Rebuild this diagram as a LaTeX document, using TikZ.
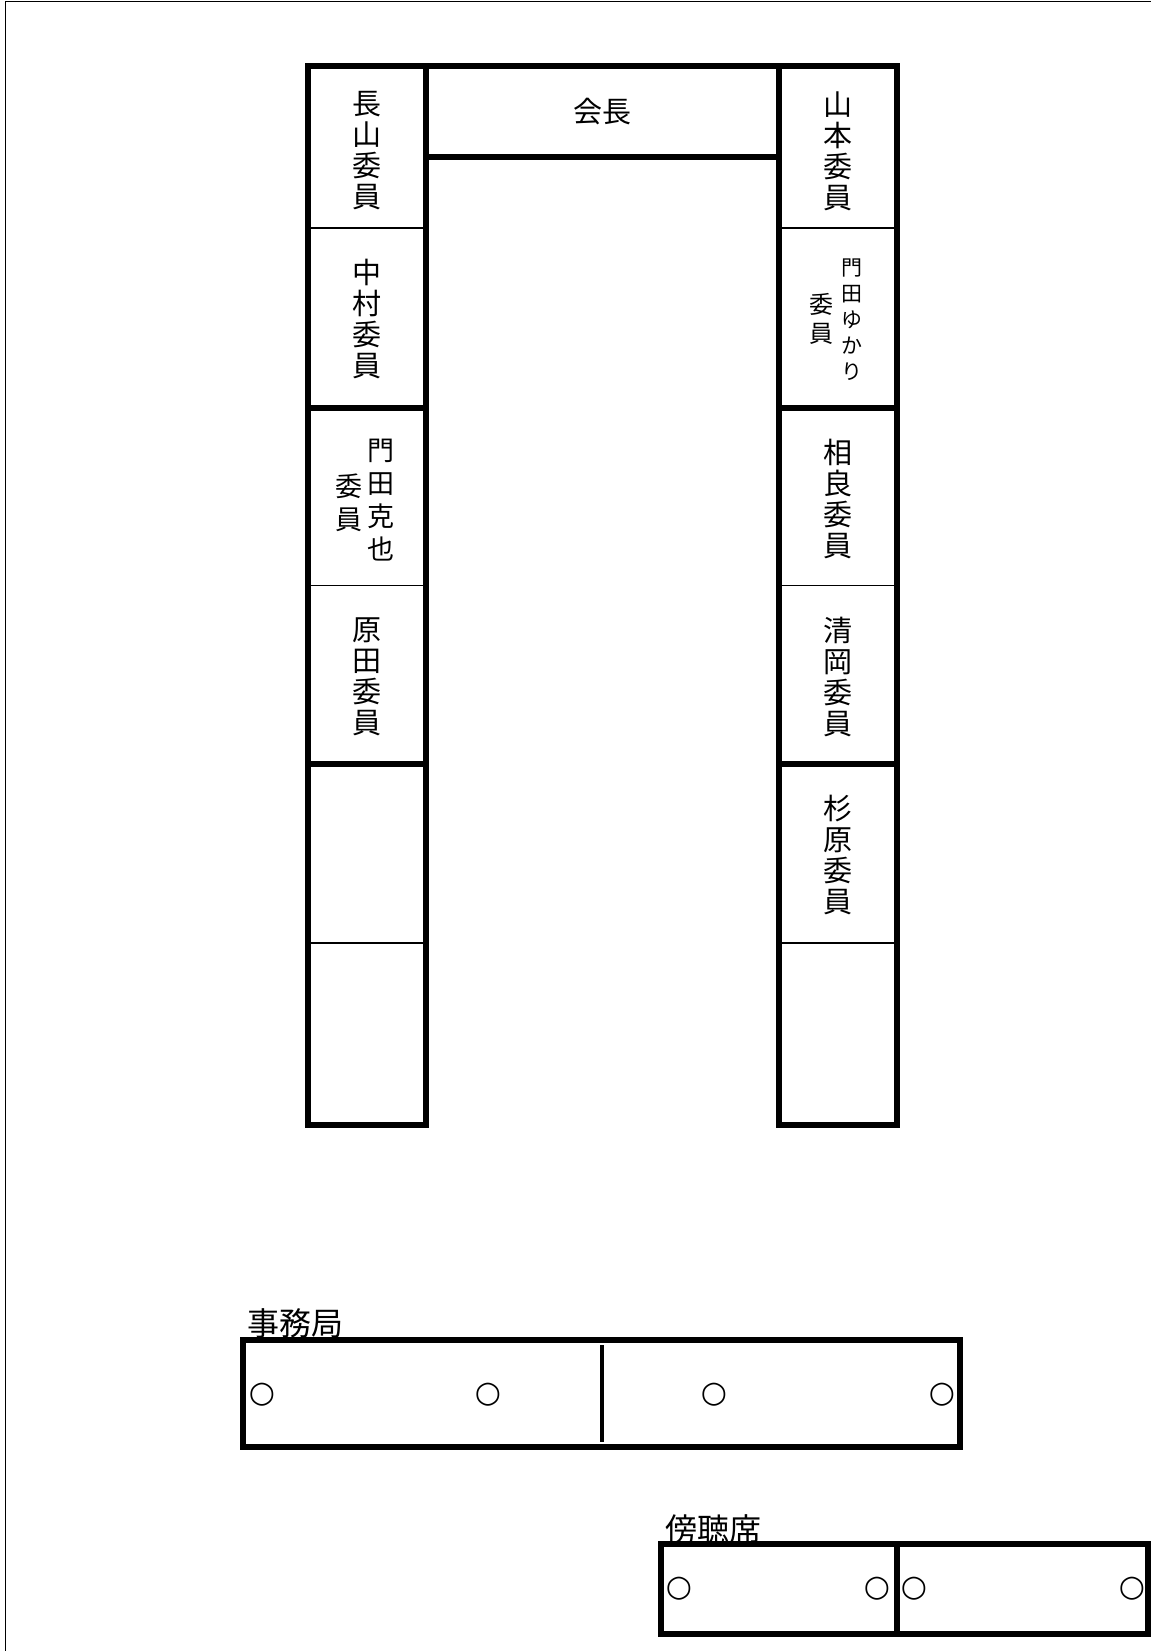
\documentclass[tikz,border=0pt]{standalone}
\usepackage{fontspec}
\newfontfamily\jp{Noto Sans CJK JP}
\newfontfamily\markfont{DejaVu Sans}
\begin{document}
\begin{tikzpicture}[x=0.5pt,y=-0.5pt,
  thickline/.style={line width=3pt},
  thinline/.style={line width=0.75pt},
  frameline/.style={line width=0.6pt},
  seat/.style={font=\jp\fontsize{14.5}{15.5}\selectfont, align=center, inner sep=0pt},
  seatmid/.style={font=\jp\fontsize{13.5}{16.5}\selectfont, align=center, inner sep=0pt},
  seatsmall/.style={font=\jp\fontsize{10.5}{13}\selectfont, align=center, inner sep=0pt},
  seatsmallb/.style={font=\jp\fontsize{12}{14.5}\selectfont, align=center, inner sep=0pt},
  label/.style={font=\jp\fontsize{16}{17}\selectfont, inner sep=0pt, anchor=west},
  seatmark/.style={font=\markfont\bfseries\fontsize{15}{16}\selectfont, inner sep=0pt}]
\useasboundingbox (0,0) rectangle (1151,1651);
% page frame
\draw[frameline] (5.5,1651) -- (5.5,1.5) -- (1151,1.5);
% left column
\draw[thickline] (308,66) rectangle (425.5,1125);
\draw[thickline] (308,408) -- (425.5,408);
\draw[thickline] (308,764) -- (425.5,764);
\draw[thinline] (308,228) -- (425.5,228);
\draw[thinline] (308,585.5) -- (425.5,585.5);
\draw[thinline] (308,943) -- (425.5,943);
% right column
\draw[thickline] (779,66) rectangle (897,1125);
\draw[thickline] (779,408) -- (897,408);
\draw[thickline] (779,764) -- (897,764);
\draw[thinline] (779,228) -- (897,228);
\draw[thinline] (779,585.5) -- (897,585.5);
\draw[thinline] (779,943) -- (897,943);
% chair box
\draw[thickline] (425.5,66) -- (779,66);
\draw[thickline] (425.5,157) -- (779,157);
\node[seat] (chair) at (602,112) {会長};
% left names
\node[seat] (l1) at (367,151) {長\\山\\委\\員};
\node[seat] (l2) at (367,319) {中\\村\\委\\員};
\node[seatmid] (l3a) at (381,500) {門\\田\\克\\也};
\node[seatmid] (l3b) at (349,503) {委\\員};
\node[seat] (l4) at (367,677) {原\\田\\委\\員};
% right names
\node[seat] (r1) at (838,151) {山\\本\\委\\員};
\node[seatsmall] (r2a) at (852,320) {門\\田\\ゆ\\か\\り};
\node[seatsmallb] (r2b) at (821,319) {委\\員};
\node[seat] (r3) at (838,499) {相\\良\\委\\員};
\node[seat] (r4) at (838,677) {清\\岡\\委\\員};
\node[seat] (r5) at (838,855) {杉\\原\\委\\員};
% secretariat
\node[label] (secl) at (247,1323) {事務局};
\draw[thickline] (243,1340) rectangle (960,1447);
\draw[line width=2pt] (602,1345) -- (602,1442);
\node[seatmark] (s1) at (262,1395) {○};
\node[seatmark] (s2) at (488,1395) {○};
\node[seatmark] (s3) at (714,1395) {○};
\node[seatmark] (s4) at (942,1395) {○};
% gallery
\node[label] (galll) at (665,1529) {傍聴席};
\draw[thickline] (661,1544) rectangle (1148,1634);
\draw[thickline] (897,1544) -- (897,1634);
\node[seatmark] (g1) at (679,1589) {○};
\node[seatmark] (g2) at (877,1589) {○};
\node[seatmark] (g3) at (914,1589) {○};
\node[seatmark] (g4) at (1132,1589) {○};
\end{tikzpicture}
\end{document}
